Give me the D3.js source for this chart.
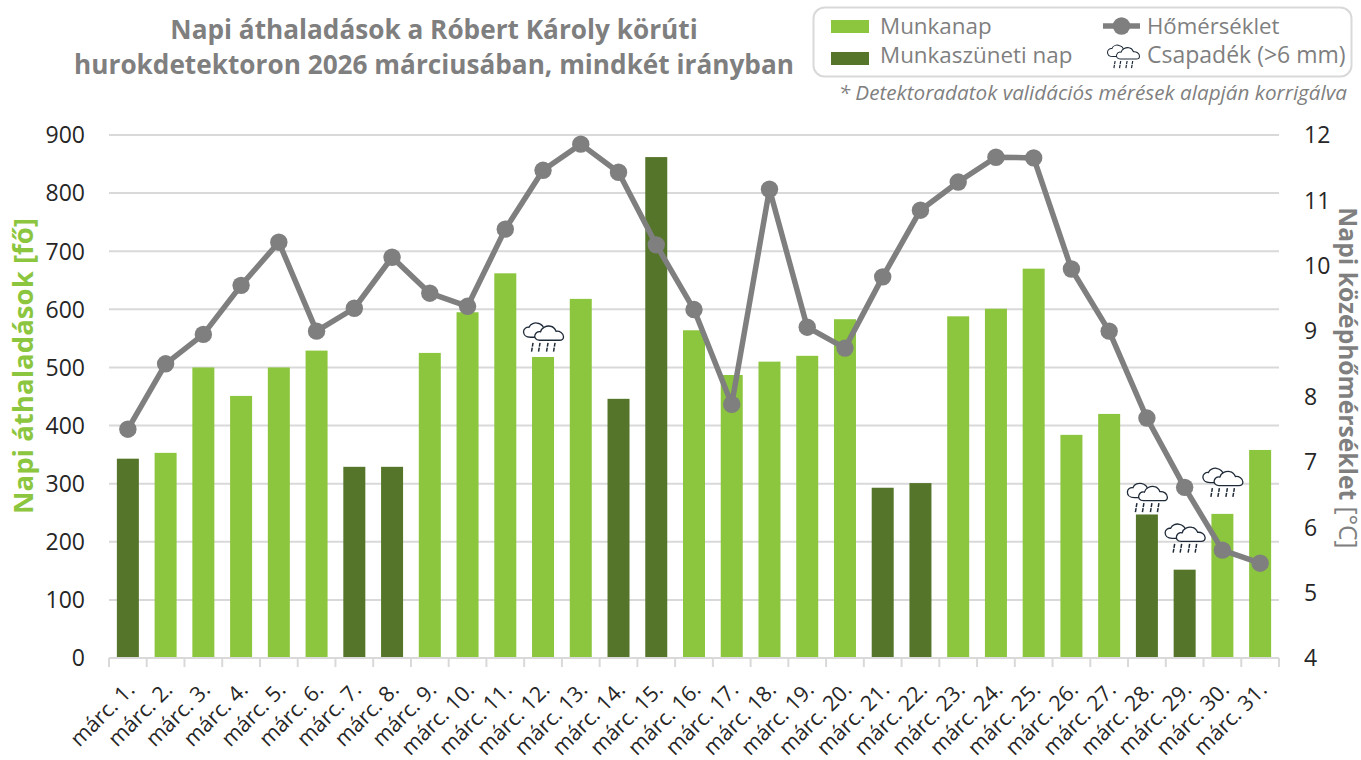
<!DOCTYPE html>
<html><head><meta charset="utf-8">
<script src="https://cdn.jsdelivr.net/npm/d3@7"></script>
<style>
html,body{margin:0;padding:0;background:#fff}
svg{display:block}
text{font-family:"Open Sans",sans-serif}
</style></head><body><svg id="c" width="1361" height="760"></svg>
<script>
const days = d3.range(1,32).map(d=>`márc. ${d}.`);
const passages = [343,353,500,451,500,529,329,329,525,595,662,518,618,446,862,564,487,510,520,583,293,301,588,601,670,384,420,247,152,248,358];
const holidayIdx = [0,6,7,13,14,20,21,27,28];
const temps = [7.5,8.5,8.95,9.7,10.36,9.0,9.35,10.13,9.58,9.38,10.56,11.46,11.86,11.43,10.32,9.33,7.88,11.17,9.06,8.74,9.83,10.85,11.28,11.66,11.65,9.95,9.0,7.67,6.61,5.65,5.45];
const rainIdx = [11,27,28,29];
const rainLevel = [527,251,181,277];
const leftTicks = d3.range(0,901,100);
const rightTicks = d3.range(4,13);
const titleLines = ["Napi áthaladások a Róbert Károly körúti","hurokdetektoron 2026 márciusában, mindkét irányban"];

const C = {light:"#8cc63f",dark:"#55762a",line:"#7f7f7f",grid:"#d9d9d9",title:"#7f7f7f",tick:"#262626",legend:"#7f7f7f"};
const m = {l:109,r:1279,t:135,b:658};
const svg = d3.select("#c");
const x = d3.scaleBand().domain(d3.range(31)).range([m.l,m.r]).paddingInner(0.417).paddingOuter(0.2085);
const y = d3.scaleLinear().domain([0,900]).range([m.b,m.t]);
const y2 = d3.scaleLinear().domain([4,12]).range([m.b,m.t]);
const cx = i=>x(i)+x.bandwidth()/2;

// grid
svg.append("g").selectAll("line").data(leftTicks.filter(d=>d>0)).join("line")
 .attr("x1",m.l).attr("x2",m.r).attr("y1",d=>y(d)).attr("y2",d=>y(d))
 .attr("stroke",C.grid).attr("stroke-width",2);

// bars
svg.append("g").selectAll("rect").data(passages).join("rect")
 .attr("x",(d,i)=>x(i)).attr("width",x.bandwidth())
 .attr("y",d=>y(d)).attr("height",d=>m.b-y(d))
 .attr("fill",(d,i)=>holidayIdx.includes(i)?C.dark:C.light);

// x axis
const step = (m.r-m.l)/31;
const ax = svg.append("g");
ax.append("line").attr("x1",m.l).attr("x2",m.r).attr("y1",m.b).attr("y2",m.b).attr("stroke",C.grid).attr("stroke-width",2);
ax.selectAll("line.t").data(d3.range(32)).join("line").attr("class","t")
 .attr("x1",d=>m.l+d*step).attr("x2",d=>m.l+d*step).attr("y1",m.b).attr("y2",m.b+9)
 .attr("stroke",C.grid).attr("stroke-width",2);
ax.selectAll("text").data(days).join("text")
 .attr("transform",(d,i)=>`translate(${cx(i)+4},${m.b+29}) rotate(-45)`)
 .attr("text-anchor","end").attr("dominant-baseline","middle")
 .attr("font-size",21.5).attr("fill",C.tick).text(d=>d);

// y labels
svg.append("g").selectAll("text").data(leftTicks).join("text")
 .attr("x",85).attr("y",d=>y(d)).attr("dy","0.36em").attr("text-anchor","end")
 .attr("font-size",23).attr("fill",C.tick).text(d=>d);
svg.append("g").selectAll("text").data(rightTicks).join("text")
 .attr("x",1304).attr("y",d=>y2(d)).attr("dy","0.36em").attr("text-anchor","start")
 .attr("font-size",23).attr("fill",C.tick).text(d=>d);

// line
svg.append("path").datum(temps)
 .attr("d",d3.line().x((d,i)=>cx(i)).y(d=>y2(d)))
 .attr("fill","none").attr("stroke",C.line).attr("stroke-width",5.5).attr("stroke-linejoin","round");
svg.append("g").selectAll("circle").data(temps).join("circle")
 .attr("cx",(d,i)=>cx(i)).attr("cy",d=>y2(d)).attr("r",8.7).attr("fill",C.line);

// rain icon: local origin at top centre, 40 wide, 29 tall
function rain(g,scale){
 const s = g.append("g").attr("transform",`scale(${scale})`);
 const st = "#1f2a38";
 s.append("path")
  .attr("d","M-13,14.5 C-18,14.5 -20,11.5 -20,9 C-20,6 -17,4 -14.5,4.5 C-13,1 -9,-0.5 -5.5,0.5 C-3,1 -1,2.5 0,5 L0,14.5 Z")
  .attr("fill","#fff").attr("stroke",st).attr("stroke-width",1.3);
 s.append("path")
  .attr("d","M-4,17.5 C-8,17.5 -9.5,14.5 -8.5,12 C-7.5,9.5 -5,8.5 -3,9 C-2,5 3,2.5 7,3.5 C10,4 11.5,6 12.5,8.5 C16,8 20,10.5 20,14 C20,16.5 18,17.5 16,17.5 Z")
  .attr("fill","#fff").attr("stroke",st).attr("stroke-width",1.3);
 [-12,-5,3,10].forEach(v=>s.append("path").attr("d",`M${v+1.5},20 L${v},29`).attr("stroke",st).attr("stroke-width",1.5).attr("stroke-dasharray","4 1"));
}
rainIdx.forEach((i,k)=>{
 rain(svg.append("g").attr("transform",`translate(${cx(i)+0.5},${y(rainLevel[k])-29})`),1);
});

// title
svg.append("text").attr("text-anchor","middle").attr("font-size",26.2).attr("font-weight",700).attr("fill",C.title)
 .selectAll("tspan").data(titleLines).join("tspan").attr("x",434).attr("y",(d,i)=>39+i*34.5).text(d=>d);

// axis titles
svg.append("text").attr("transform","translate(33,366) rotate(-90)").attr("text-anchor","middle")
 .attr("font-size",27.6).attr("font-weight",700).attr("fill",C.light).text("Napi áthaladások [fő]");
const rt = svg.append("text").attr("transform","translate(1339,378) rotate(90)").attr("text-anchor","middle")
 .attr("font-size",24.6).attr("fill",C.line);
rt.append("tspan").attr("font-weight",700).text("Napi középhőmérséklet");
rt.append("tspan").text(" [°C]");

// legend
svg.append("rect").attr("x",813.5).attr("y",7.5).attr("width",538).attr("height",69).attr("rx",11)
 .attr("fill","#fff").attr("stroke",C.grid).attr("stroke-width",2);
[[C.light,"Munkanap",20],[C.dark,"Munkaszüneti nap",52]].forEach(([c,t,yy])=>{
 svg.append("rect").attr("x",831).attr("y",yy).attr("width",38).attr("height",13).attr("fill",c);
});
svg.append("text").attr("x",880).attr("y",34).attr("font-size",22.4).attr("fill",C.legend).text("Munkanap");
svg.append("text").attr("x",880).attr("y",63).attr("font-size",22.4).attr("fill",C.legend).text("Munkaszüneti nap");
svg.append("line").attr("x1",1103).attr("x2",1140).attr("y1",26).attr("y2",26).attr("stroke",C.line).attr("stroke-width",5.5);
svg.append("circle").attr("cx",1121.5).attr("cy",26).attr("r",8.7).attr("fill",C.line);
svg.append("text").attr("x",1147).attr("y",34).attr("font-size",22.2).attr("fill",C.legend).text("Hőmérséklet");
rain(svg.append("g").attr("transform","translate(1123.5,45)"),0.8);
svg.append("text").attr("x",1147).attr("y",63).attr("font-size",23).attr("fill",C.legend).text("Csapadék (>6 mm)");
svg.append("text").attr("x",1347).attr("y",100).attr("text-anchor","end").attr("font-size",20.7).attr("font-style","italic").attr("fill",C.legend)
 .text("* Detektoradatok validációs mérések alapján korrigálva");
</script></body></html>
